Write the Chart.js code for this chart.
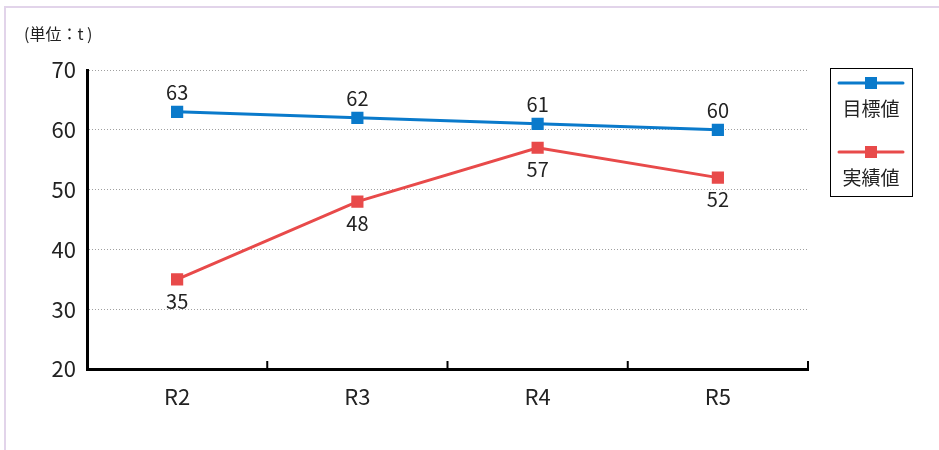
<!DOCTYPE html>
<html lang="ja">
<head>
<meta charset="utf-8">
<title>目標値と実績値</title>
<script src="https://cdn.jsdelivr.net/npm/chart.js@4/dist/chart.umd.min.js"></script>
<style>
    html, body { margin: 0; padding: 0; background: #fff; }
    #wrap { position: relative; width: 939px; height: 450px; overflow: hidden; }
    #frame {
        position: absolute; left: 4px; top: 6px; right: -10px; bottom: -10px;
        border-left: 2px solid #e2d4ea; border-top: 2px solid #e2d4ea;
        pointer-events: none;
    }
    #chart { position: absolute; left: 0; top: 0; }
</style>
</head>
<body>
<div id="wrap">
    <canvas id="chart" width="939" height="450"></canvas>
    <div id="frame"></div>
</div>
<script>
const years = ['R2', 'R3', 'R4', 'R5'];
const targetValues = [63, 62, 61, 60];
const actualValues = [35, 48, 57, 52];
const yTicks = [20, 30, 40, 50, 60, 70];

const unitLabel = '(単位：t )';
const fontFamily = '"Noto Sans CJK JP", "Noto Sans", sans-serif';
const textColor = '#222';
const blue = '#0a7acb';
const red = '#e84a4a';

// value labels above / below each point
const valueLabels = {
    id: 'valueLabels',
    afterDatasetsDraw(chart) {
        const ctx = chart.ctx;
        ctx.save();
        ctx.font = '20px ' + fontFamily;
        ctx.fillStyle = textColor;
        ctx.textAlign = 'center';
        ctx.textBaseline = 'middle';
        chart.data.datasets.forEach((ds, i) => {
            const meta = chart.getDatasetMeta(i);
            const dy = ds.labelPos === 'above' ? -19 : 22;
            meta.data.forEach((pt, j) => {
                ctx.fillText(String(ds.data[j]), pt.x, pt.y + dy);
            });
        });
        ctx.restore();
    }
};

// short upward ticks between categories, unit text and the boxed legend
const decorations = {
    id: 'decorations',
    afterDraw(chart) {
        const ctx = chart.ctx;
        const area = chart.chartArea;
        const x = chart.scales.x;
        ctx.save();

        ctx.strokeStyle = '#000';
        ctx.lineWidth = 2;
        for (let i = 0; i < years.length; i++) {
            const bx = x.getPixelForValue(i) + (x.getPixelForValue(1) - x.getPixelForValue(0)) / 2;
            ctx.beginPath();
            ctx.moveTo(bx, area.bottom);
            ctx.lineTo(bx, area.bottom - 8);
            ctx.stroke();
        }

        ctx.font = '16px ' + fontFamily;
        ctx.fillStyle = textColor;
        ctx.textAlign = 'left';
        ctx.textBaseline = 'middle';
        ctx.fillText(unitLabel, 24, 34);

        const box = { left: area.right + 22, top: area.top - 2, width: 82, height: 128 };
        ctx.lineWidth = 1;
        ctx.strokeStyle = '#000';
        ctx.strokeRect(box.left + 0.5, box.top + 0.5, box.width, box.height);

        chart.data.datasets.forEach((ds, i) => {
            const lineY = box.top + 15 + i * 69;
            const cx = box.left + box.width / 2;
            ctx.strokeStyle = ds.borderColor;
            ctx.lineWidth = 3;
            ctx.lineCap = 'round';
            ctx.beginPath();
            ctx.moveTo(box.left + 9, lineY);
            ctx.lineTo(box.left + box.width - 9, lineY);
            ctx.stroke();
            ctx.fillStyle = ds.backgroundColor;
            ctx.fillRect(cx - 6, lineY - 6, 12, 12);

            ctx.font = '19px ' + fontFamily;
            ctx.fillStyle = textColor;
            ctx.textAlign = 'center';
            ctx.fillText(ds.label, cx, lineY + 26);
        });
        ctx.restore();
    }
};

new Chart(document.getElementById('chart'), {
    type: 'line',
    data: {
        labels: years,
        datasets: [
            {
                label: '目標値', data: targetValues, labelPos: 'above',
                borderColor: blue, backgroundColor: blue, borderWidth: 3,
                pointStyle: 'rect', pointRadius: 6.5, pointHoverRadius: 6.5, tension: 0
            },
            {
                label: '実績値', data: actualValues, labelPos: 'below',
                borderColor: red, backgroundColor: red, borderWidth: 3,
                pointStyle: 'rect', pointRadius: 6.5, pointHoverRadius: 6.5, tension: 0
            }
        ]
    },
    options: {
        responsive: false,
        animation: false,
        layout: { padding: { left: 0, top: 70, right: 131, bottom: 0 } },
        plugins: { legend: { display: false }, tooltip: { enabled: false } },
        scales: {
            x: {
                offset: true,
                grid: { display: false },
                border: { display: true, color: '#000', width: 3 },
                ticks: { color: textColor, font: { family: fontFamily, size: 22 }, padding: 6 },
                afterFit(scale) { scale.height = 81; }
            },
            y: {
                min: yTicks[0],
                max: yTicks[yTicks.length - 1],
                afterBuildTicks(scale) { scale.ticks = yTicks.map(v => ({ value: v })); },
                grid: {
                    drawTicks: false,
                    color: ctx => ctx.tick.value === yTicks[0] ? 'rgba(0,0,0,0)' : '#a0a0a0',
                    lineWidth: 1
                },
                // dash applies to the grid lines; the axis line itself stays solid
                border: { display: true, color: '#000', width: 3, dash: [1, 2] },
                ticks: { color: textColor, font: { family: fontFamily, size: 22 }, padding: 11 },
                afterFit(scale) { scale.width = 87; }
            }
        }
    },
    plugins: [valueLabels, decorations]
});
</script>
</body>
</html>
